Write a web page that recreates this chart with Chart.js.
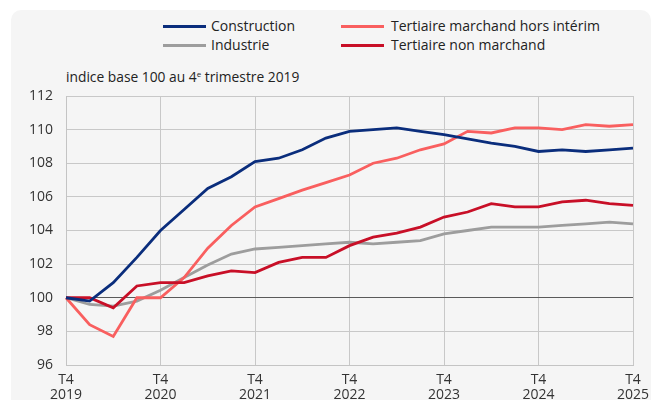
<!DOCTYPE html>
<html>
<head>
<meta charset="utf-8">
<script src="https://cdn.jsdelivr.net/npm/chart.js@4"></script>
<style>
  html, body { margin: 0; padding: 0; background: #ffffff; }
  #wrap { position: relative; width: 659px; height: 400px; overflow: hidden; font-family: "Open Sans", sans-serif; }
  #panel { position: absolute; left: 11px; top: 10px; width: 640px; height: 420px; background: #f5f5f5; border-radius: 10px; }
  #chart { position: absolute; left: 0; top: 0; }
  .leg { position: absolute; font-size: 14px; color: #222; line-height: 18px; white-space: nowrap; }
  .sw { position: absolute; height: 3px; }
  #sub { position: absolute; left: 66px; top: 67px; font-size: 13.8px; color: #222; white-space: nowrap; }
  #sub sup { font-size: 8px; vertical-align: 5px; }
</style>
</head>
<body>
<div id="wrap">
  <div id="panel"></div>
  <div class="sw" id="sw0" style="left:163px; top:25px; width:43px;"></div>
  <div class="leg" id="lg0" style="left:211px; top:17px;"></div>
  <div class="sw" id="sw1" style="left:341px; top:25px; width:43px;"></div>
  <div class="leg" id="lg1" style="left:391px; top:17px;"></div>
  <div class="sw" id="sw2" style="left:163px; top:44px; width:43px;"></div>
  <div class="leg" id="lg2" style="left:211px; top:36px;"></div>
  <div class="sw" id="sw3" style="left:341px; top:44px; width:43px;"></div>
  <div class="leg" id="lg3" style="left:391px; top:36px;"></div>
  <div id="sub">indice base 100 au 4<sup>e</sup> trimestre 2019</div>
  <canvas id="chart" width="659" height="400"></canvas>
</div>
<script>
const categories = [
  "T4 2019","T1 2020","T2 2020","T3 2020","T4 2020",
  "T1 2021","T2 2021","T3 2021","T4 2021",
  "T1 2022","T2 2022","T3 2022","T4 2022",
  "T1 2023","T2 2023","T3 2023","T4 2023",
  "T1 2024","T2 2024","T3 2024","T4 2024",
  "T1 2025","T2 2025","T3 2025","T4 2025"
];
const construction = [100, 99.8, 100.9, 102.4, 104.0, 105.25, 106.5, 107.2, 108.1, 108.3, 108.8, 109.5, 109.9, 110.0, 110.1, 109.9, 109.7, 109.45, 109.2, 109.0, 108.7, 108.8, 108.7, 108.8, 108.9];
const tertiaireMarchand = [100, 98.4, 97.7, 100.0, 100.0, 101.2, 102.95, 104.3, 105.4, 105.9, 106.4, 106.85, 107.3, 108.0, 108.3, 108.8, 109.15, 109.9, 109.8, 110.1, 110.1, 110.0, 110.3, 110.2, 110.3];
const industrie = [100, 99.6, 99.5, 99.8, 100.45, 101.2, 101.95, 102.6, 102.9, 103.0, 103.1, 103.2, 103.3, 103.2, 103.3, 103.4, 103.8, 104.0, 104.2, 104.2, 104.2, 104.3, 104.4, 104.5, 104.4];
const tertiaireNonMarchand = [100, 100, 99.4, 100.7, 100.9, 100.9, 101.3, 101.6, 101.5, 102.1, 102.4, 102.4, 103.1, 103.6, 103.85, 104.2, 104.8, 105.1, 105.6, 105.4, 105.4, 105.7, 105.8, 105.6, 105.5];
const seriesNames = ["Construction", "Tertiaire marchand hors intérim", "Industrie", "Tertiaire non marchand"];
const seriesColors = ["#0a2d7c", "#f95f5f", "#9d9d9d", "#c80f27"];
const yMin = 96, yMax = 112, yStep = 2;

const seriesData = [construction, tertiaireMarchand, industrie, tertiaireNonMarchand];
seriesNames.forEach((n, i) => {
  document.getElementById('lg' + i).textContent = n;
  document.getElementById('sw' + i).style.background = seriesColors[i];
});

const datasets = seriesNames.map((n, i) => ({
  label: n,
  data: seriesData[i],
  borderColor: seriesColors[i],
  backgroundColor: seriesColors[i],
  borderWidth: 2.8,
  pointRadius: 0,
  tension: 0,
  fill: false
}));
const order = [2, 1, 3, 0];
datasets.forEach((d, i) => { d.order = 3 - order.indexOf(i); });

new Chart(document.getElementById('chart'), {
  type: 'line',
  data: { labels: categories, datasets: datasets },
  options: {
    responsive: false,
    animation: false,
    layout: { padding: { left: 0, top: 96, right: 26, bottom: 0 } },
    plugins: { legend: { display: false }, tooltip: { enabled: false } },
    scales: {
      x: {
        offset: false,
        border: { display: true, color: '#c4c4c4' },
        grid: {
          drawTicks: false,
          color: (c) => (c.index % 4 === 0 ? '#c8c8c8' : 'rgba(0,0,0,0)'),
          lineWidth: 1
        },
        ticks: {
          autoSkip: false,
          maxRotation: 0,
          padding: 7,
          color: '#333333',
          font: { family: 'Open Sans', size: 14, lineHeight: 1.1 },
          callback: function (v, i) {
            if (i % 4 !== 0) return '';
            return categories[i].split(' ');
          }
        },
        afterFit: (s) => { s.height = 35; }
      },
      y: {
        min: yMin, max: yMax,
        border: { display: true, color: '#c4c4c4' },
        grid: {
          drawTicks: false,
          color: (c) => (c.tick && c.tick.value === 100 ? '#5a5a5a' : '#c8c8c8'),
          lineWidth: 1
        },
        ticks: {
          stepSize: yStep,
          padding: 13,
          color: '#333333',
          font: { family: 'Open Sans', size: 14 }
        },
        afterFit: (s) => { s.width = 66; }
      }
    }
  }
});
</script>
</body>
</html>
